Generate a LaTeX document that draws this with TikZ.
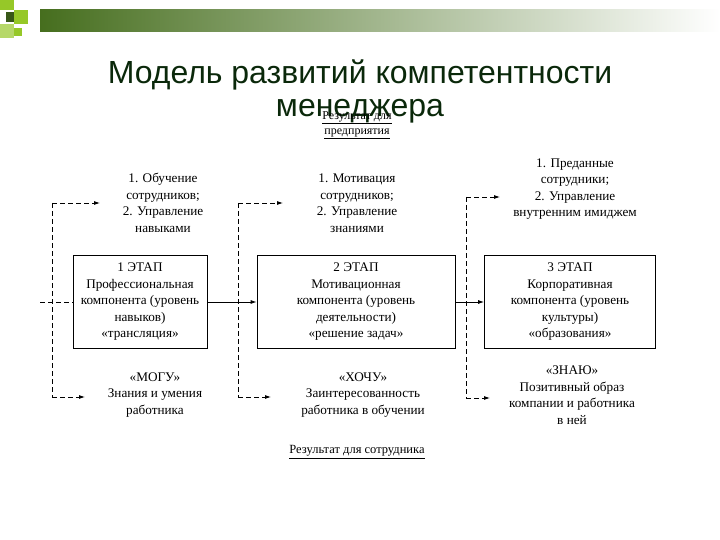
\documentclass[tikz,border=0pt]{standalone}
\usepackage{fontspec}
\setmainfont{Liberation Serif}
\newfontfamily\titlefont{Liberation Sans}
\usetikzlibrary{arrows.meta}
\definecolor{bargreen}{RGB}{70,110,30}
\definecolor{lightg}{RGB}{150,200,40}
\definecolor{titleg}{RGB}{10,40,10}
\begin{document}
\begin{tikzpicture}[x=1pt,y=-1pt,
  stage/.style={draw,thick,minimum width=#1,minimum height=93,align=center,inner sep=1pt,font=\fontsize{13.2}{16.5}\selectfont},
  txt/.style={align=center,font=\fontsize{13.2}{16.5}\selectfont},
  dsh/.style={thick,dash pattern=on 5pt off 3pt},
  dar/.style={dsh,-{Latex[length=6pt,width=4pt]}},
  sar/.style={thick,-{Latex[length=6pt,width=4pt]}}]
\useasboundingbox (0,0) rectangle (720,540);
% banner
\shade[left color=bargreen,right color=white] (40,10) rectangle (720,32);
\fill[lightg] (0,0) rectangle (14,10);
\fill[lightg] (14,10) rectangle (28,24);
\fill[bargreen!80!black] (6,12) rectangle (14,22);
\fill[lightg!70] (0,24) rectangle (14,38);
\fill[lightg] (14,28) rectangle (22,36);
% title
\node[text=titleg,font=\titlefont\fontsize{32}{33}\selectfont,align=center] (title) at (360,91) {Модель развитий компетентности\\менеджера};
\node[txt,font=\fontsize{12}{15}\selectfont] (resp) at (357,125) {\underline{Результат для}\\\underline{предприятия}};
% stages
\node[stage=134] (s1) at (140,302) {1 ЭТАП\\Профессиональная\\компонента (уровень\\навыков)\\«трансляция»};
\node[stage=198] (s2) at (356,302) {2 ЭТАП\\Мотивационная\\компонента (уровень\\деятельности)\\«решение задач»};
\node[stage=171] (s3) at (570,302) {3 ЭТАП\\Корпоративная\\компонента (уровень\\культуры)\\«образования»};
% texts
\node[txt] (t1) at (163,203) {1. Обучение\\сотрудников;\\2. Управление\\навыками};
\node[txt] (t2) at (357,203) {1. Мотивация\\сотрудников;\\2. Управление\\знаниями};
\node[txt] (t3) at (575,189) {1. Преданные\\сотрудники;\\2. Управление\\внутренним имиджем};
\node[txt] (b1) at (155,395) {«МОГУ»\\Знания и умения\\работника};
\node[txt] (b2) at (363,395) {«ХОЧУ»\\Заинтересованность\\работника в обучении};
\node[txt] (b3) at (572,395) {«ЗНАЮ»\\Позитивный образ\\компании и работника\\в ней};
\node[txt,font=\fontsize{12.5}{14}\selectfont] (resw) at (357,452) {\underline{Результат для сотрудника}};
% connectors
\coordinate (l0) at (40,302);
\coordinate (j1t) at (52,203); \coordinate (j1b) at (52,397);
\draw[dsh] (l0) -- (s1.west);
\draw[dsh] (j1t) -- (j1b);
\draw[dar] (j1t) -- (100,203);
\draw[dar] (j1b) -- (85,397);
\draw[sar] (s1.east) -- (s2.west);
\coordinate (j2t) at (238,203); \coordinate (j2b) at (238,397);
\draw[dsh] (j2t) -- (j2b);
\draw[dar] (j2t) -- (283,203);
\draw[dar] (j2b) -- (271,397);
\draw[sar] (s2.east) -- (s3.west);
\coordinate (j3t) at (466,197); \coordinate (j3b) at (466,398);
\draw[dsh] (j3t) -- (j3b);
\draw[dar] (j3t) -- (500,197);
\draw[dar] (j3b) -- (490,398);
\end{tikzpicture}
\end{document}
